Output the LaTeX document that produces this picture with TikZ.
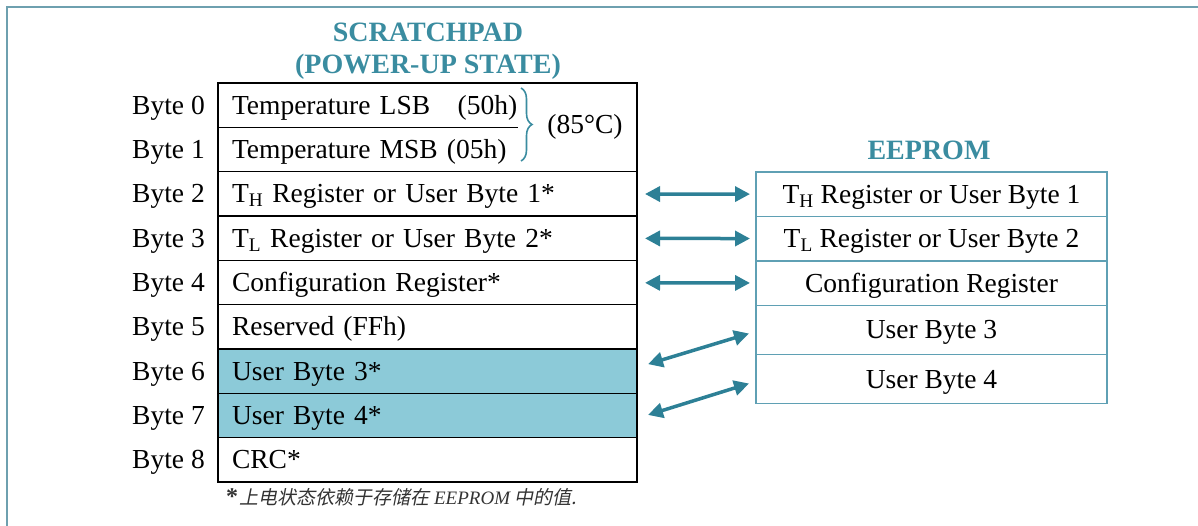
\documentclass[tikz,border=0pt]{standalone}
\usepackage{fontspec}
\setmainfont{Liberation Serif}
\newfontfamily\cjk{Noto Sans CJK SC}[FakeSlant=0.2]
\usetikzlibrary{positioning,arrows.meta,decorations.pathreplacing}
\definecolor{titleteal}{RGB}{58,140,160}
\definecolor{arrowteal}{RGB}{45,128,150}
\definecolor{userfill}{RGB}{140,202,216}
\definecolor{eeline}{RGB}{95,160,180}
\definecolor{framecol}{RGB}{110,160,175}
\newcommand{\sub}[1]{\textsubscript{#1}}

\begin{document}
\begin{tikzpicture}[x=1pt, y=1pt,
  row/.style={draw, line width=1.6pt, outer sep=0pt, minimum height=44.33pt, text width=391pt, inner xsep=14pt, align=left, text height=21pt, text depth=3pt, font=\fontsize{27.5}{29}\selectfont},
  eerow/.style={draw=eeline, line width=1.4pt, outer sep=0pt, minimum height=44.5pt, minimum width=351pt, align=center, text height=21pt, text depth=3pt, font=\fontsize{27.5}{29}\selectfont},
  bytelab/.style={inner xsep=4pt, text height=21pt, text depth=3pt, font=\fontsize{27.5}{29}\selectfont},
  heading/.style={text=titleteal, align=center, font=\bfseries\fontsize{28}{32}\selectfont},
  link/.style={{Triangle[length=15pt,width=15pt]}-{Triangle[length=15pt,width=15pt]}, line width=3.5pt, draw=arrowteal}]
  \useasboundingbox (0,0) rectangle (1198,525);
  % frame
  \draw[framecol, line width=1.5pt] (7,-10) -- (7,518) -- (1210,518);
  % Scratchpad
  \node[heading] (sptitle) at (428,474) {SCRATCHPAD\\(POWER-UP STATE)};
  \node[row, draw=none, anchor=north] (b0) at (427.5,442) {Temperature LSB\quad(50h)};
  \node[row, draw=none, below=0pt of b0] (b1) {Temperature MSB (05h)};
  \node[row, below=0pt of b1] (b2) {T\sub{H} Register or User Byte 1*};
  \node[row, below=0pt of b2] (b3) {T\sub{L} Register or User Byte 2*};
  \node[row, below=0pt of b3] (b4) {Configuration Register*};
  \node[row, below=0pt of b4] (b5) {Reserved (FFh)};
  \node[row, fill=userfill, below=0pt of b5] (b6) {User Byte 3*};
  \node[row, fill=userfill, below=0pt of b6] (b7) {User Byte 4*};
  \node[row, below=0pt of b7] (b8) {CRC*};
  \draw[line width=1.6pt] (b0.north west) rectangle (b1.south east);
  \draw[line width=1.6pt] (b0.south west) -- ++(300,0);
  \foreach \i in {0,...,8}
    \node[bytelab, left=9pt of b\i] (lab\i) {Byte \i};
  \draw[titleteal, line width=1.6pt, decorate, decoration={brace, amplitude=11pt}] (521,437) -- (521,364);
  \node[font=\fontsize{27.5}{29}\selectfont] (temp) at (585,398) {(85°C)};
  % EEPROM
  \node[heading] (eetitle) at (929,375) {EEPROM};
  \node[eerow, anchor=north] (e1) at (931.5,353) {T\sub{H} Register or User Byte 1};
  \node[eerow, below=0pt of e1] (e2) {T\sub{L} Register or User Byte 2};
  \node[eerow, below=0pt of e2] (e3) {Configuration Register};
  \node[eerow, minimum height=49pt, below=0pt of e3] (e4) {User Byte 3};
  \node[eerow, minimum height=49pt, below=0pt of e4] (e5) {User Byte 4};
  % note
  \node[anchor=west, text=black!80, inner sep=0pt] (note) at (226,28) {{\fontsize{24}{24}\selectfont\bfseries *}\,{\fontsize{19}{22}\selectfont\cjk 上电状态依赖于存储在 {\rmfamily\itshape EEPROM} 中的值.}};
  % Connections
  \draw[link, shorten <=8pt, shorten >=6pt] (b2) -- (e1);
  \draw[link, shorten <=8pt, shorten >=6pt] (b3) -- (e2);
  \draw[link, shorten <=8pt, shorten >=6pt] (b4) -- (e3);
  \draw[link] ([shift={(11,7)}]b6.east) -- ([shift={(-7,-3.5)}]e4.west);
  \draw[link] ([shift={(11,0.5)}]b7.east) -- ([shift={(-7,-4.5)}]e5.west);
\end{tikzpicture}
\end{document}
